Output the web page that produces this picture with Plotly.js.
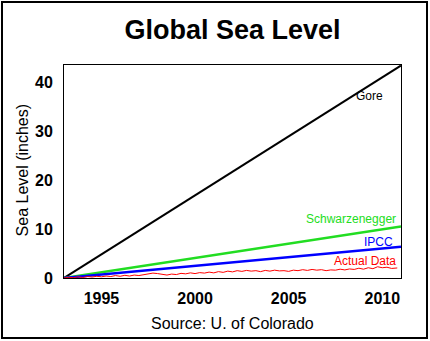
<!DOCTYPE html>
<html>
<head>
<meta charset="utf-8">
<script src="https://cdn.plot.ly/plotly-3.0.1.min.js"></script>
<style>
html,body{margin:0;padding:0;background:#fff;}
#chart{width:430px;height:341px;position:absolute;left:0;top:0;}
#frame{position:absolute;left:1px;top:1px;width:427px;height:338px;box-sizing:border-box;border:2px solid #000;pointer-events:none;}
</style>
</head>
<body>
<div id="chart"></div>
<div id="frame"></div>
<script>
// Projection lines (start and end points)
const projYears = [1993, 2011];
const gore = [0, 43.4];
const schwarzenegger = [0, 10.5];
const ipcc = [0, 6.4];

// Actual data (inches)
const actualYears = [1993.00,1993.25,1993.50,1993.75,1994.00,1994.25,1994.50,1994.75,
  1995.00,1995.25,1995.50,1995.75,1996.00,1996.25,1996.50,1996.75,
  1997.00,1997.25,1997.50,1997.75,1998.00,1998.25,1998.50,1998.75,
  1999.00,1999.25,1999.50,1999.75,2000.00,2000.25,2000.50,2000.75,
  2001.00,2001.25,2001.50,2001.75,2002.00,2002.25,2002.50,2002.75,
  2003.00,2003.25,2003.50,2003.75,2004.00,2004.25,2004.50,2004.75,
  2005.00,2005.25,2005.50,2005.75,2006.00,2006.25,2006.50,2006.75,
  2007.00,2007.25,2007.50,2007.75,2008.00,2008.25,2008.50,2008.75,
  2009.00,2009.25,2009.50,2009.75,2010.00,2010.25,2010.50,2010.80];
const actualLevel = [0.0,0.15,0.05,0.25,0.1,0.3,0.2,0.35,
  0.25,0.4,0.3,0.5,0.35,0.55,0.4,0.6,
  0.5,0.7,0.85,1.0,0.9,0.75,0.6,0.8,
  0.7,0.95,0.85,1.05,0.9,1.1,1.0,1.2,
  1.05,1.3,1.15,1.4,1.25,1.5,1.35,1.55,
  1.4,1.5,1.3,1.55,1.4,1.6,1.45,1.5,
  1.35,1.6,1.5,1.7,1.55,1.75,1.6,1.7,
  1.5,1.65,1.6,1.8,1.65,1.85,1.75,2.0,
  1.8,2.1,1.9,2.3,2.1,2.2,1.95,2.05];

const xTicks = [1995, 2000, 2005, 2010];
const yTicks = [0, 10, 20, 30, 40];

const FONT = '"Liberation Sans", Arial, sans-serif';

const traces = [
  {x: projYears, y: gore, mode: 'lines', line: {color: '#000000', width: 2}, hoverinfo: 'skip'},
  {x: projYears, y: schwarzenegger, mode: 'lines', line: {color: '#22dd22', width: 2.5}, hoverinfo: 'skip'},
  {x: projYears, y: ipcc, mode: 'lines', line: {color: '#0000ff', width: 2.5}, hoverinfo: 'skip'},
  {x: actualYears, y: actualLevel, mode: 'lines', line: {color: '#ff0000', width: 1}, hoverinfo: 'skip'}
];

const layout = {
  width: 430, height: 341,
  margin: {l: 64, r: 29, t: 65, b: 63},
  paper_bgcolor: '#ffffff', plot_bgcolor: '#ffffff',
  showlegend: false,
  font: {family: FONT, color: '#000'},
  title: {text: '<b>Global Sea Level</b>', font: {family: FONT, size: 27, color: '#000'},
          x: 0.5, xref: 'paper', y: 1 - 30/341, yref: 'container', yanchor: 'middle'},
  xaxis: {range: [1993, 2011], tickvals: xTicks, ticktext: xTicks.map(String),
          showgrid: false, zeroline: false, showline: true, mirror: true, linecolor: '#000', linewidth: 1,
          ticks: '', ticklabelstandoff: 6, tickfont: {family: FONT, size: 16, color: '#000', weight: 'bold'}},
  yaxis: {range: [0, 43.5], tickvals: yTicks, ticktext: yTicks.map(String),
          showgrid: false, zeroline: false, showline: true, mirror: true, linecolor: '#000', linewidth: 1,
          ticks: '', ticklabelstandoff: 7, tickfont: {family: FONT, size: 16, color: '#000', weight: 'bold'}},
  annotations: [
    {text: 'Gore', x: 2010.15, y: 37.2, xref: 'x', yref: 'y', xanchor: 'right', yanchor: 'middle', showarrow: false,
     font: {family: FONT, size: 12, color: '#000'}},
    {text: 'Schwarzenegger', x: 2010.85, y: 12.0, xref: 'x', yref: 'y', xanchor: 'right', yanchor: 'middle', showarrow: false,
     font: {family: FONT, size: 12, color: '#22dd22'}},
    {text: 'IPCC', x: 2010.7, y: 7.3, xref: 'x', yref: 'y', xanchor: 'right', yanchor: 'middle', showarrow: false,
     font: {family: FONT, size: 12, color: '#0000ff'}},
    {text: 'Actual Data', x: 2010.85, y: 3.45, xref: 'x', yref: 'y', xanchor: 'right', yanchor: 'middle', showarrow: false,
     font: {family: FONT, size: 12, color: '#ff0000'}},
    {text: 'Source: U. of Colorado', x: 0.5, y: (278-323)/213, xref: 'paper', yref: 'paper', xanchor: 'center', yanchor: 'middle', showarrow: false,
     font: {family: FONT, size: 16, color: '#000'}},
    {text: 'Sea Level (inches)', x: (22-64)/337, y: 0.505, xref: 'paper', yref: 'paper', xanchor: 'center', yanchor: 'middle', textangle: -90, showarrow: false,
     font: {family: FONT, size: 16, color: '#000'}}
  ]
};

Plotly.newPlot('chart', traces, layout, {displayModeBar: false, staticPlot: true});
</script>
</body>
</html>
